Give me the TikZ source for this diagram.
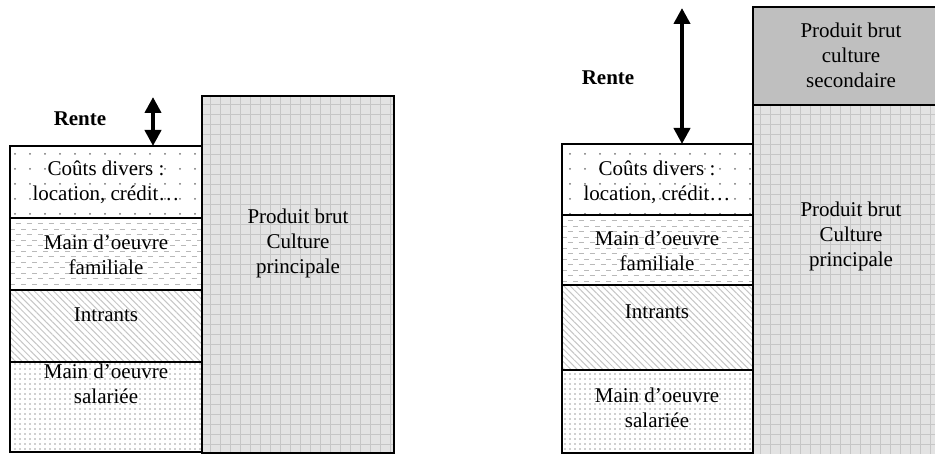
\documentclass[tikz,border=0pt]{standalone}
\usepackage{fontspec}
\setmainfont{Liberation Serif}
\usetikzlibrary{patterns,patterns.meta,arrows.meta}
\tikzset{
 box/.style={draw=black, line width=1.8pt, inner sep=0pt, outer sep=0pt, anchor=north west},
 txt/.style={font=\fontsize{21}{25}\selectfont, align=center, inner sep=0pt},
 rtxt/.style={font=\fontsize{21}{25}\selectfont\bfseries, inner sep=0pt},
 dotsparse/.style={pattern={Dots[distance=15pt,radius=1pt]}, pattern color=black!55},
 dotdense/.style={pattern={Dots[distance=5pt,radius=0.9pt]}, pattern color=gray!75},
 hatchfill/.style={pattern={Lines[angle=-45,distance=4.5pt,line width=1pt]}, pattern color=gray!45},
 gridfill/.style={preaction={fill=gray!22}, pattern={Hatch[angle=0,distance=10pt,line width=0.6pt]}, pattern color=gray!45},
 secfill/.style={fill=gray!50},
 famfill/.style={path picture={\foreach \k [evaluate=\k as \ph using {mod(\k,2)*5.5}] in {1,...,15}{\draw[gray!55, line width=0.7pt, dash pattern=on 5pt off 6pt, dash phase=\ph pt] ([yshift=-\k*5.5pt]path picture bounding box.north west) -- ([yshift=-\k*5.5pt]path picture bounding box.north east);}}},
 dbl/.style={line width=4.5pt, {Triangle[width=16pt,length=16pt]}-{Triangle[width=16pt,length=16pt]}},
}
\begin{document}
\begin{tikzpicture}[x=1pt,y=-1pt]
\useasboundingbox (0,0) rectangle (935,454);
\begin{scope}
\clip (0,0) rectangle (935,454);
% ---------- left diagram ----------
\node[box, gridfill, minimum width=192pt, minimum height=357pt] (p1) at (202,96) {};
\node[box, dotsparse, minimum width=192pt, minimum height=72pt] (c1) at (10,146) {};
\node[box, famfill, minimum width=192pt, minimum height=72pt] (f1) at (10,218) {};
\node[box, hatchfill, minimum width=192pt, minimum height=72pt] (i1) at (10,290) {};
\node[box, dotdense, minimum width=192pt, minimum height=90pt] (s1) at (10,362) {};
\node[txt] (tp1) at (298,243.5) {Produit brut\\Culture\\principale};
\node[txt] (tc1) at (106,182) {Coûts divers :\\location, crédit…};
\node[txt] (tf1) at (106,254.5) {Main d’oeuvre\\familiale};
\node[txt] (ti1) at (106,315) {Intrants};
\node[txt] (ts1) at (106,383.5) {Main d’oeuvre\\salariée};
\node[rtxt] (r1) at (80,119) {Rente};
\coordinate (a1) at (153,97);
\draw[dbl] (a1) -- (a1 |- c1.north);
% ---------- right diagram ----------
\node[box, secfill, minimum width=202pt, minimum height=98pt] (q2) at (753,7) {};
\node[box, gridfill, minimum width=202pt, minimum height=355pt] (p2) at (753,105) {};
\node[box, dotsparse, minimum width=191pt, minimum height=71pt] (c2) at (562,144) {};
\node[box, famfill, minimum width=191pt, minimum height=70pt] (f2) at (562,215) {};
\node[box, hatchfill, minimum width=191pt, minimum height=85pt] (i2) at (562,285) {};
\node[box, dotdense, minimum width=191pt, minimum height=83pt] (s2) at (562,370) {};
\node[txt] (tq2) at (851,55) {Produit brut\\culture\\secondaire};
\node[txt] (tp2) at (851,236) {Produit brut\\Culture\\principale};
\node[txt] (tc2) at (657,182) {Coûts divers :\\location, crédit…};
\node[txt] (tf2) at (657,251) {Main d’oeuvre\\familiale};
\node[txt] (ti2) at (657,312) {Intrants};
\node[txt] (ts2) at (657,407.5) {Main d’oeuvre\\salariée};
\node[rtxt] (r2) at (608,78) {Rente};
\coordinate (a2) at (682,8);
\draw[dbl] (a2) -- (a2 |- c2.north);
\end{scope}
\end{tikzpicture}
\end{document}
